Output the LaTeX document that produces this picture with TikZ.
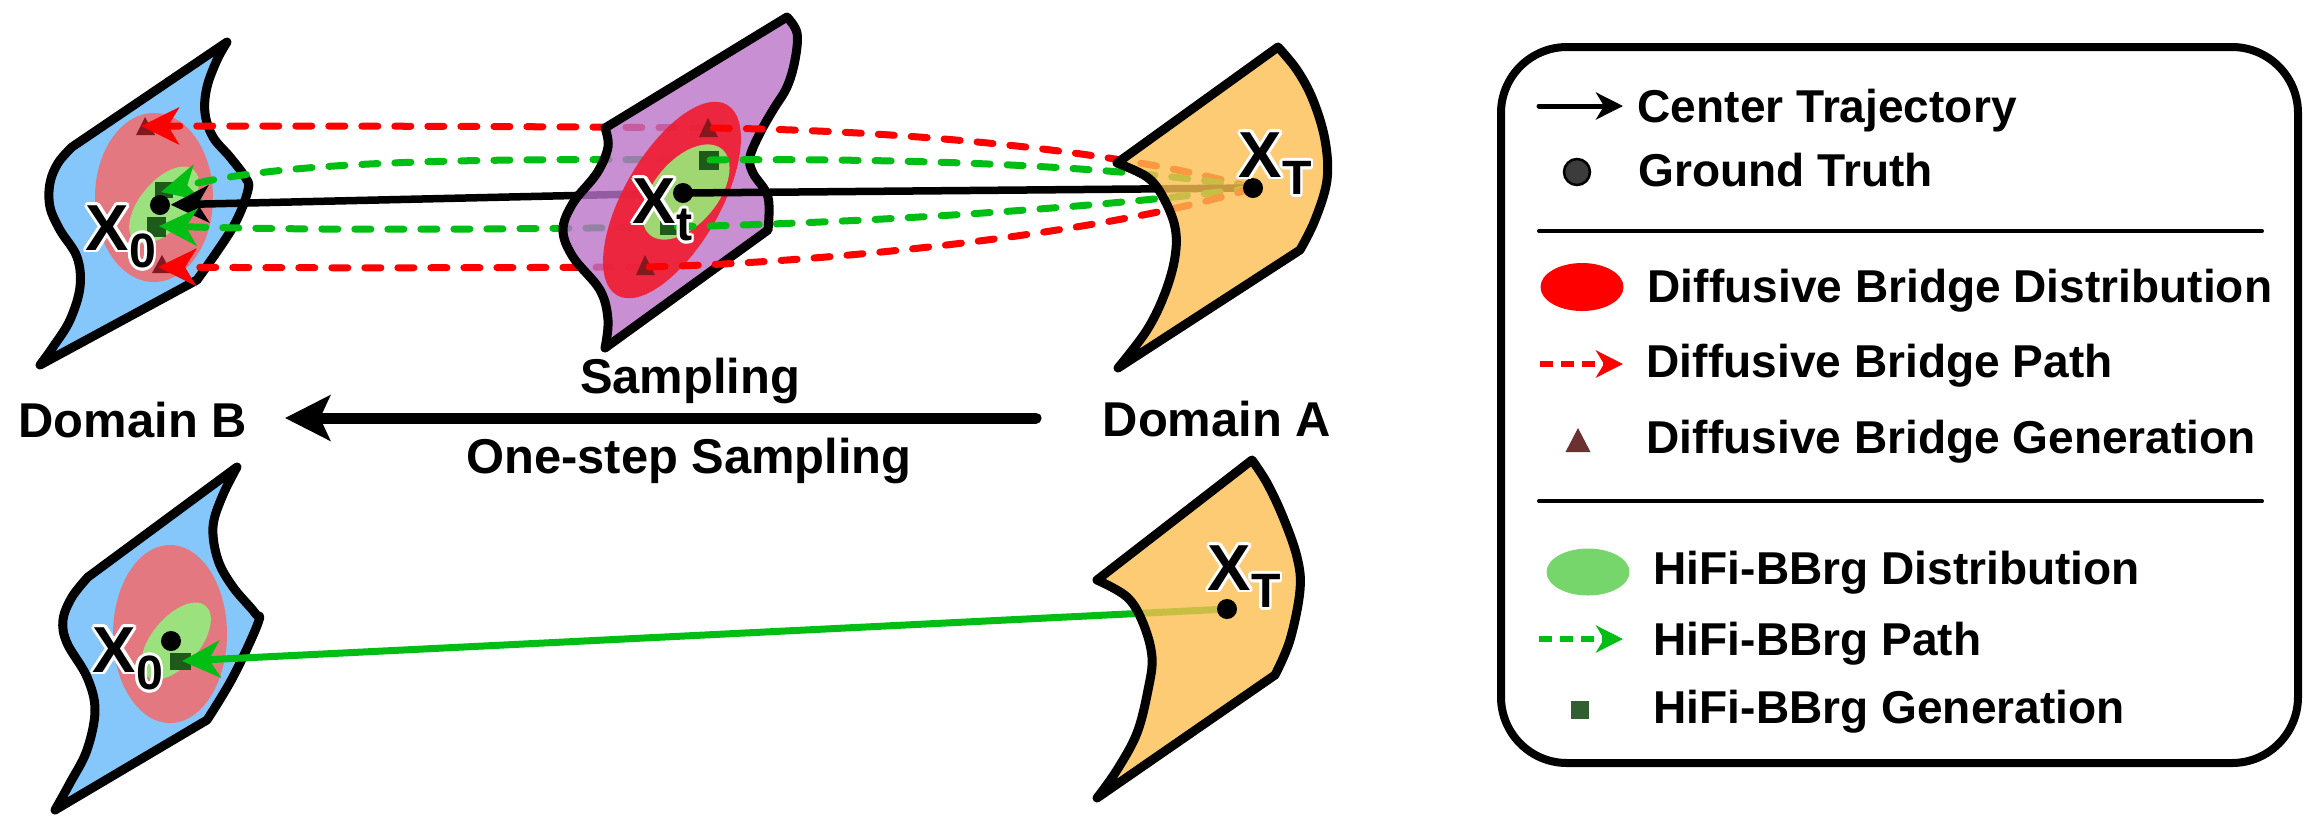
\documentclass[tikz,border=0pt]{standalone}
\usepackage{fontspec}
\setmainfont{Liberation Sans}
\usepackage{contour}
\contourlength{0.8pt}
\usetikzlibrary{arrows.meta}

\definecolor{domB}{RGB}{133,198,251}
\definecolor{domA}{RGB}{251,190,81}
\definecolor{domT}{RGB}{186,116,200}
\definecolor{pinkE}{RGB}{228,120,128}
\definecolor{lgE}{RGB}{155,225,125}
\definecolor{redE}{RGB}{240,30,50}
\definecolor{lgE2}{RGB}{160,215,115}
\definecolor{pathG}{RGB}{0,190,20}
\definecolor{pathR}{RGB}{255,0,0}
\definecolor{triC}{RGB}{130,25,30}
\definecolor{sqC}{RGB}{30,90,25}
\definecolor{legTri}{RGB}{107,48,48}
\definecolor{legSq}{RGB}{50,95,50}
\definecolor{legG}{RGB}{119,214,107}
\definecolor{gtC}{RGB}{60,60,60}

\newcommand{\Xlab}[1]{\contour{white}{\fontsize{18.5pt}{20pt}\selectfont\bfseries X}\raisebox{-5pt}{\contour{white}{\fontsize{13.7pt}{15pt}\selectfont\bfseries #1}}}

\begin{document}
\begin{tikzpicture}[x=0.01cm,y=-0.01cm,
  domshape/.style={draw=black,line width=0.09cm,line join=round},
  dashR/.style={draw=pathR,line width=0.07cm,line cap=round,dash pattern=on 0.16cm off 0.17cm},
  dashG/.style={draw=pathG,line width=0.07cm,line cap=round,dash pattern=on 0.16cm off 0.17cm},
  solidK/.style={draw=black,line width=0.075cm,line cap=round},
  solidG/.style={draw=pathG,line width=0.07cm,line cap=round},
  bigtip/.style={-{Stealth[length=0.38cm,width=0.37cm,inset=0.11cm]}},
  dot/.style={circle,fill=black,inner sep=0pt,minimum size=0.2cm},
  tri/.style={fill=triC},
  sq/.style={fill=sqC},
  lbl/.style={anchor=base west,inner sep=0pt,font=\bfseries\fontsize{13.9pt}{15pt}\selectfont},
  clbl/.style={anchor=base,inner sep=0pt,font=\bfseries\fontsize{13.9pt}{15pt}\selectfont},
  leg/.style={anchor=base west,inner sep=0pt,font=\bfseries\fontsize{13.1pt}{15pt}\selectfont},
  xl/.style={anchor=base west,inner sep=0pt},
  legline/.style={line width=0.04cm,line cap=round},
  legtip/.style={-{Stealth[length=0.27cm,width=0.27cm,inset=0.08cm]}}
]
\useasboundingbox (0,0) rectangle (2320,826);

% ================= TOP: Domain B =================
\path[domshape,fill=domB] (227,42) -- (72,147)
  -- plot[smooth,tension=0.6] coordinates {(72,147) (58,163) (50,183) (50,207) (60,230) (77,257) (80,287) (70,320) (53,347) (40,365)}
  -- (197,280)
  -- plot[smooth,tension=0.6] coordinates {(197,280) (233,227) (248,190) (245,177) (230,157) (213,137) (205,113) (207,87) (217,60) (227,42)}
  -- cycle;
\fill[pinkE] (154,197.5) ellipse [x radius=59, y radius=84.5];
\fill[lgE, rotate around={50:(164,205)}] (164,205) ellipse [x radius=46, y radius=24];
\fill[tri] (145,117) -- (155,135) -- (136,135) -- cycle;
\fill[tri] (162,255) -- (172,273) -- (152,273) -- cycle;
\fill[sq] (155,182) rectangle (173,198);
\fill[sq] (147,217) rectangle (166,237);
\node[dot] (X0) at (160,205) {};
\coordinate (r0A) at (141,126);
\coordinate (g0A) at (161,192);
\coordinate (g0B) at (159,226);
\coordinate (r0B) at (158,267);

% markers on the intermediate plane (positions)
\coordinate (tA) at (708,128);
\coordinate (sA) at (708,160);
\coordinate (sB) at (668,227);
\coordinate (tB) at (645,267);
\coordinate (XtC) at (683,193);
\coordinate (XTC) at (1253,188);

% segments from X_t plane to X_0 (under the purple plane)
\draw[dashR,bigtip] (tA) .. controls (500,126) and (300,126) .. (r0A);
\draw[dashG,bigtip] (sA) .. controls (450,158) and (280,162) .. (g0A);
\draw[solidK,bigtip] (XtC) -- (X0);
\draw[dashG,bigtip] (sB) .. controls (450,230) and (300,230) .. (g0B);
\draw[dashR,bigtip] (tB) .. controls (450,268) and (300,268) .. (r0B);

% ================= TOP: intermediate plane =================
\path[domshape,fill=domT,fill opacity=0.8] (787,17) -- (605,128)
  -- plot[smooth,tension=0.6] coordinates {(605,128) (608,147) (597,173) (573,203) (563,230) (573,257) (600,290) (608,320) (605,348)}
  -- (768,230)
  -- plot[smooth,tension=0.6] coordinates {(768,230) (768,197) (753,173) (750,157) (760,133) (773,110) (787,87) (795,60) (797,33) (787,17)}
  -- cycle;
\fill[redE,fill opacity=0.92, rotate around={60:(672,200)}] (672,200) ellipse [x radius=110, y radius=48];
\fill[lgE2, rotate around={50:(686,192)}] (686,192) ellipse [x radius=56, y radius=32];
\fill[tri] (708,118) -- (718,137) -- (699,137) -- cycle;
\fill[tri] (645,255) -- (655,275) -- (636,275) -- cycle;
\fill[sq] (699,151) rectangle (719,170);
\fill[sq] (660,217) rectangle (678,235);

% segments from X_T to X_t plane (above the purple plane)
\draw[dashR] (XTC) .. controls (1120,150) and (900,130) .. (tA);
\draw[dashG] (XTC) .. controls (1120,165) and (900,158) .. (sA);
\draw[solidK] (XTC) -- (XtC);
\draw[dashG] (XTC) .. controls (1120,205) and (900,222) .. (sB);
\draw[dashR] (XTC) .. controls (1120,230) and (850,262) .. (tB);
\node[dot] (Xt) at (XtC) {};

% ================= TOP: Domain A =================
\path[domshape,fill=domA,fill opacity=0.8] (1278,47) -- (1117,163)
  -- plot[smooth,tension=0.6] coordinates {(1117,163) (1147,177) (1163,197) (1175,227) (1175,257) (1165,293) (1147,330) (1118,368)}
  -- (1300,250)
  -- plot[smooth,tension=0.6] coordinates {(1300,250) (1315,220) (1327,180) (1325,140) (1313,100) (1297,70) (1278,47)}
  -- cycle;
\node[dot] (XT) at (XTC) {};

% labels
\node[xl] (lX0) at (85,250) {\Xlab{0}};
\node[xl] (lXt) at (632,223) {\Xlab{t}};
\node[xl] (lXT) at (1238,177) {\Xlab{T}};

% ================= MIDDLE =================
\node[lbl] (domBlab) at (18,437) {Domain B};
\node[lbl] (domAlab) at (1102,436) {Domain A};
\node[clbl] (samp) at (690,393) {Sampling};
\node[clbl] (onestep) at (689,473) {One-step Sampling};
\coordinate (bigTail) at (1036,418);
\coordinate (bigTip) at (285,418);
\draw[line width=0.11cm,line cap=round,-{Stealth[length=0.45cm,width=0.45cm,inset=0.1cm]}] (bigTail) -- (bigTip);

% ================= BOTTOM: Domain B =================
\path[domshape,fill=domB] (237,467) -- (88,577)
  -- plot[smooth,tension=0.6] coordinates {(88,577) (72,597) (63,620) (67,643) (87,677) (95,710) (87,750) (70,783) (55,810)}
  -- (207,720)
  -- plot[smooth,tension=0.6] coordinates {(207,720) (233,677) (258,623) (255,613) (233,587) (218,560) (213,527) (222,497) (237,467)}
  -- cycle;
\fill[pinkE] (170,634) ellipse [x radius=57, y radius=89];
\fill[lgE, rotate around={50:(176,641)}] (176,641) ellipse [x radius=46, y radius=24];
\node[dot] (X0b) at (171,641) {};
\fill[sq] (170,653) rectangle (191,670);
\coordinate (sq0b) at (182,661);
\coordinate (XTbC) at (1227,609);
\draw[solidG,bigtip] (XTbC) -- (sq0b);

% ================= BOTTOM: Domain A =================
\path[domshape,fill=domA,fill opacity=0.8] (1252,460) -- (1097,580)
  -- plot[smooth,tension=0.6] coordinates {(1097,580) (1127,597) (1143,623) (1152,657) (1148,690) (1137,733) (1117,770) (1097,798)}
  -- (1275,675)
  -- plot[smooth,tension=0.6] coordinates {(1275,675) (1290,640) (1300,590) (1297,557) (1283,517) (1267,483) (1252,460)}
  -- cycle;
\node[dot] (XTb) at (XTbC) {};
\node[xl] (lX0b) at (92,672) {\Xlab{0}};
\node[xl] (lXTb) at (1207,590) {\Xlab{T}};

% ================= LEGEND =================
\draw[line width=0.08cm,rounded corners=0.66cm] (1501,47) rectangle (2298,763);
\coordinate (l1a) at (1539,106); \coordinate (l1b) at (1623,106);
\draw[legline,line width=0.05cm,legtip] (l1a) -- (l1b);
\node[leg] (t1) at (1637,122) {Center Trajectory};
\node[circle,fill=gtC,draw=black,line width=0.025cm,minimum size=0.26cm,inner sep=0pt] (gt) at (1577,172) {};
\node[leg] (t2) at (1638,186) {Ground Truth};
\coordinate (s1a) at (1539,231); \coordinate (s1b) at (2262,231);
\draw[legline] (s1a) -- (s1b);
\fill[red] (1582,287) ellipse [x radius=41.5, y radius=24];
\node[leg] (t3) at (1647,302) {Diffusive Bridge Distribution};
\coordinate (l2a) at (1540,364); \coordinate (l2b) at (1623,364);
\draw[line width=0.06cm,draw=red,dash pattern=on 0.13cm off 0.08cm,legtip] (l2a) -- (l2b);
\node[leg] (t4) at (1646,377) {Diffusive Bridge Path};
\fill[legTri] (1578,428) -- (1590.5,452) -- (1565.5,452) -- cycle;
\node[leg] (t5) at (1646,453) {Diffusive Bridge Generation};
\coordinate (s2a) at (1539,501); \coordinate (s2b) at (2262,501);
\draw[legline] (s2a) -- (s2b);
\fill[legG] (1588,572) ellipse [x radius=41.5, y radius=23.5];
\node[leg] (t6) at (1653,584) {HiFi-BBrg Distribution};
\coordinate (l3a) at (1539,639); \coordinate (l3b) at (1623,639);
\draw[line width=0.06cm,draw=pathG,dash pattern=on 0.13cm off 0.08cm,legtip] (l3a) -- (l3b);
\node[leg] (t7) at (1653,655) {HiFi-BBrg Path};
\fill[legSq] (1571,701) rectangle (1589,719);
\node[leg] (t8) at (1653,723) {HiFi-BBrg Generation};
\end{tikzpicture}
\end{document}
